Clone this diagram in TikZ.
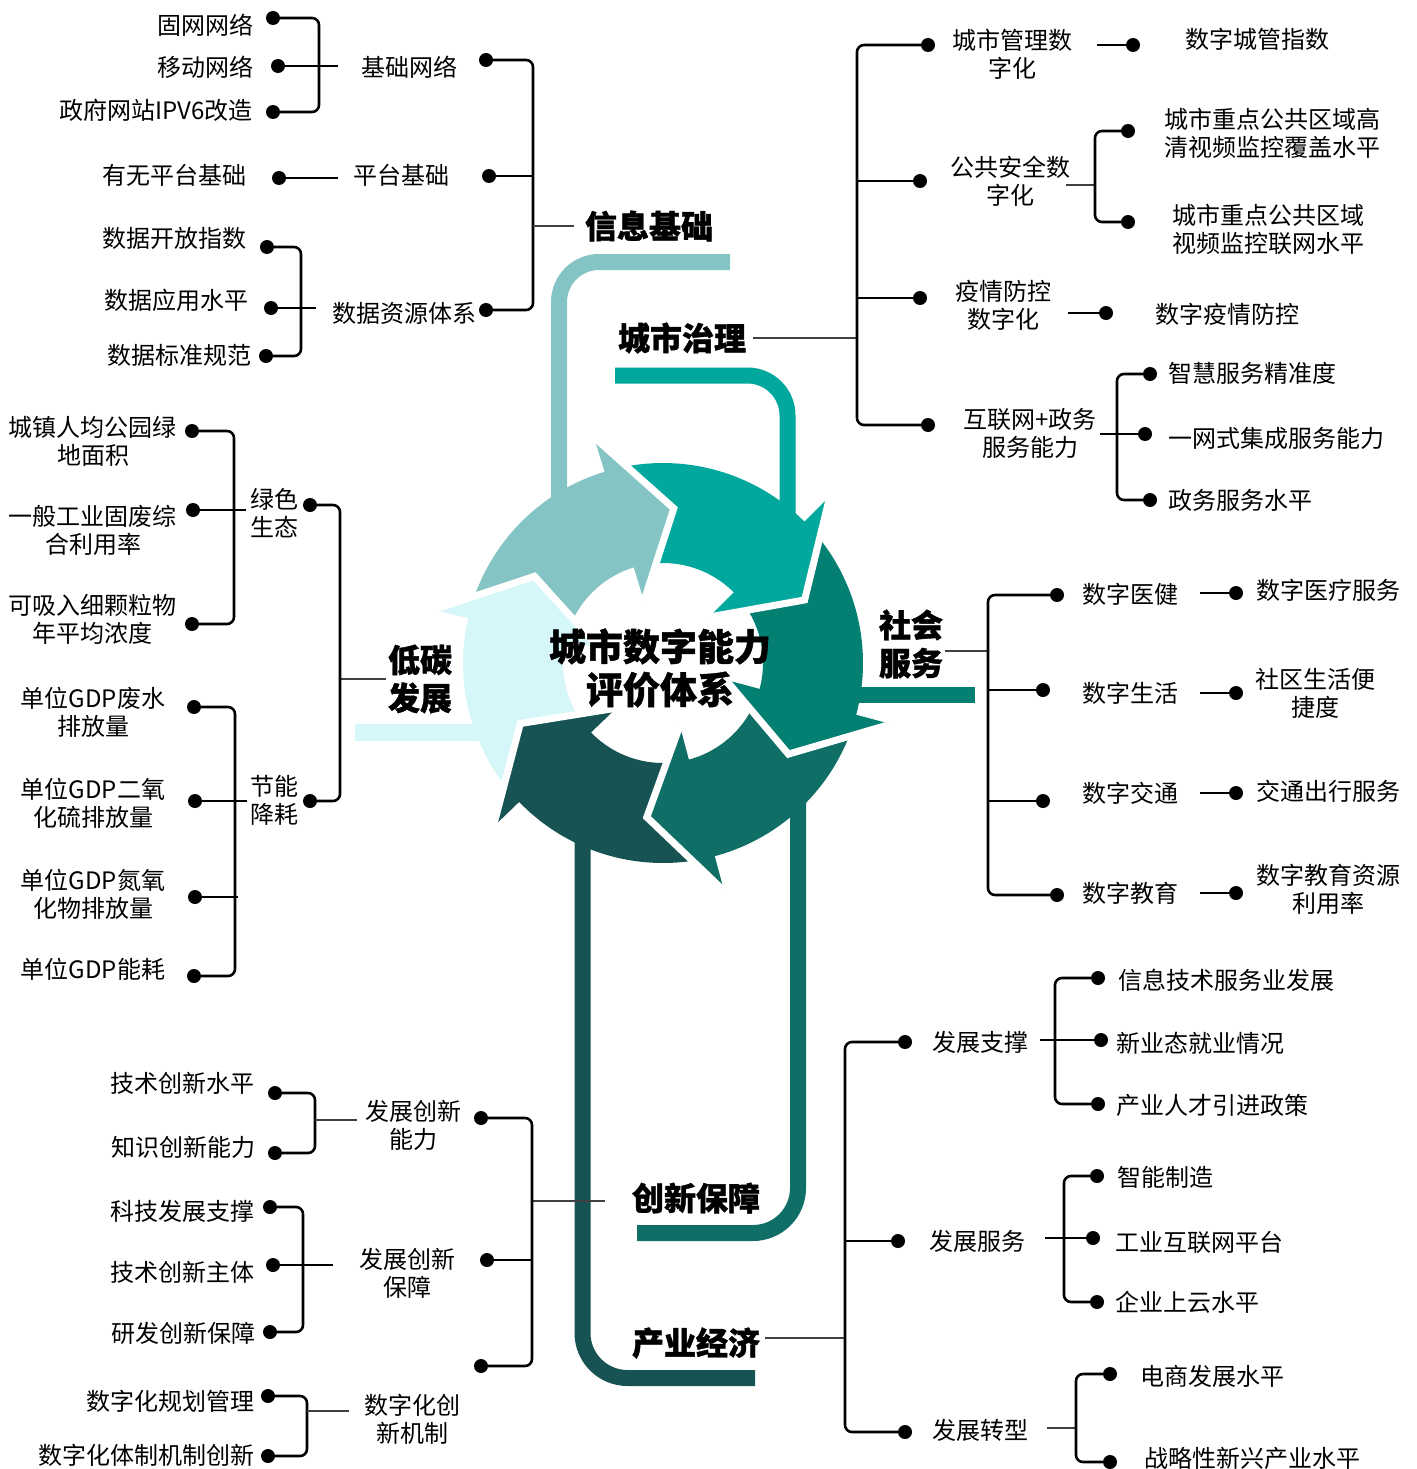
\documentclass[tikz,border=0pt]{standalone}
\usepackage{fontspec}
\setmainfont{Noto Sans CJK SC}[BoldFeatures={FakeBold=1.2}]
\usetikzlibrary{calc}
\definecolor{cA}{HTML}{85C4C4}
\definecolor{cB}{HTML}{02A89D}
\definecolor{cC}{HTML}{048073}
\definecolor{cD}{HTML}{0F6F66}
\definecolor{cE}{HTML}{175353}
\definecolor{cF}{HTML}{D6F7FA}
\newcommand\ringbody[3]{%
  \fill[#1] plot[domain=#2+3:#3+3,samples=40] ({663+200*cos(\x)},{663+200*sin(\x)})
    -- plot[domain=#3+3:#2+3,samples=30] ({663+100*cos(\x)},{663+100*sin(\x)}) -- cycle;}
\newcommand\ringhead[2]{%
  \fill[#1] ({663+236*cos(#2)},{663+236*sin(#2)}) -- ({663+155*cos(#2+21)},{663+155*sin(#2+21)})
    -- ({663+65*cos(#2)},{663+65*sin(#2)}) -- cycle;
  \draw[white,line width=7pt] ({663+236*cos(#2)},{663+236*sin(#2)}) -- ({663+155*cos(#2+21)},{663+155*sin(#2+21)})
    -- ({663+65*cos(#2)},{663+65*sin(#2)});}
\begin{document}
\begin{tikzpicture}[x=1pt,y=-1pt,
  lab/.style={font=\fontsize{24}{28}\selectfont, inner sep=0pt, align=center},
  big/.style={font=\bfseries\fontsize{32}{38}\selectfont, inner sep=2pt, fill=white, align=center},
  ctext/.style={font=\bfseries\fontsize{37}{43}\selectfont, inner sep=0pt, align=center},
  dot/.style={circle, fill=black, inner sep=0pt, minimum size=14pt},
  br/.style={line width=2.6pt, rounded corners=7pt},
  thinln/.style={line width=1.2pt, draw=black!75},
  bar/.style={line width=16pt, rounded corners=40pt},
]
\useasboundingbox (0,0) rectangle (1416,1469);

% ---- bars
\draw[cA, bar] (559,510) -- (559,262) -- (730,262);
\draw[cB, bar] (615,375.5) -- (787.5,375.5) -- (787.5,530);
\draw[cC, line width=16pt] (845,695) -- (975,695);
\draw[cD, bar, rounded corners=45pt] (798,790) -- (798,1233) -- (637,1233);
\draw[cE, bar, rounded corners=45pt] (582.5,830) -- (582.5,1378) -- (755,1378);
\draw[cF, line width=17pt] (490,732) -- (355,732);

% ---- ring
\ringbody{cA}{-167}{-107}
\ringbody{cB}{-107}{-45}
\ringbody{cC}{-45}{15}
\ringbody{cD}{15}{75}
\ringbody{cE}{75}{136}
\ringbody{cF}{136}{193}
\ringhead{cA}{-107}
\ringhead{cB}{-45}
\ringhead{cC}{15}
\ringhead{cD}{75}
\ringhead{cE}{136}
\ringhead{cF}{193}

\node[ctext] (center) at (660,668) {城市数字能力\\评价体系};

% ================= 信息基础
\node[dot] (da1) at (273,18) {};
\node[dot] (da2) at (278,66) {};
\node[dot] (da3) at (273,112) {};
\node[lab,anchor=east] (a1) at (254,25) {固网网络};
\node[lab,anchor=east] (a2) at (254,67) {移动网络};
\node[lab,anchor=east] (a3) at (253,110) {政府网站IPV6改造};
\coordinate (bxA1) at (319,0);
\draw[br] (da1) -- (da1 -| bxA1) -- (da3 -| bxA1) -- (da3);
\coordinate (tA1) at (338,66);
\draw[br] (da2) -- (tA1);
\node[lab,anchor=west] (aB1) at (361,67) {基础网络};
\node[dot] (daB1) at (486,60) {};
\node[dot] (da4) at (279,178) {};
\node[lab,anchor=east] (a4) at (247,175) {有无平台基础};
\coordinate (tA2) at (338,178);
\draw[br] (da4) -- (tA2);
\node[lab,anchor=west] (aB2) at (353,175) {平台基础};
\node[dot] (daB2) at (489,176) {};
\node[dot] (da5) at (267,247) {};
\node[dot] (da6) at (271,308) {};
\node[dot] (da7) at (266,356) {};
\node[lab,anchor=east] (a5) at (247,238) {数据开放指数};
\node[lab,anchor=east] (a6) at (249,300) {数据应用水平};
\node[lab,anchor=east] (a7) at (252,355) {数据标准规范};
\coordinate (bxA3) at (301,0);
\draw[br] (da5) -- (da5 -| bxA3) -- (da7 -| bxA3) -- (da7);
\coordinate (tA3) at (316,308);
\draw[br] (da6) -- (tA3);
\node[lab,anchor=west] (aB3) at (332,313) {数据资源体系};
\node[dot] (daB3) at (486,310) {};
\coordinate (bxA) at (533,0);
\draw[br] (daB1) -- (daB1 -| bxA) -- (daB3 -| bxA) -- (daB3);
\draw[br] (daB2) -- (daB2 -| bxA);
\node[big] (xA) at (649,226) {信息基础};
\draw[thinln, shorten >=9pt] (xA -| bxA) -- (xA.west);

% ================= 城市治理
\node[big] (xB) at (682,338) {城市治理};
\coordinate (bxB) at (857,0);
\draw[thinln, shorten <=5pt] (xB.east) -- (xB -| bxB);
\node[dot] (db1) at (928,45) {};
\node[dot] (db2) at (920,181) {};
\node[dot] (db3) at (920,298) {};
\node[dot] (db4) at (928,425) {};
\draw[br] (db1) -- (db1 -| bxB) -- (db4 -| bxB) -- (db4);
\draw[br] (db2) -- (db2 -| bxB);
\draw[br] (db3) -- (db3 -| bxB);
\node[lab] (b1) at (1012,54) {城市管理数\\字化};
\coordinate (sb1) at (1097,45);
\node[dot] (db1c) at (1133,45) {};
\draw[br] (sb1) -- (db1c);
\node[lab,anchor=west] (b1c) at (1185,39) {数字城管指数};
\node[lab] (b2) at (1010,181) {公共安全数\\字化};
\coordinate (sb2) at (1066,185);
\coordinate (bxB2) at (1095,0);
\node[dot] (db2a) at (1128,131) {};
\node[dot] (db2b) at (1128,222) {};
\draw[thinln] (sb2) -- (sb2 -| bxB2);
\draw[br] (db2a) -- (db2a -| bxB2) -- (db2b -| bxB2) -- (db2b);
\node[lab] (b2a) at (1272,133) {城市重点公共区域高\\清视频监控覆盖水平};
\node[lab] (b2b) at (1268,229) {城市重点公共区域\\视频监控联网水平};
\node[lab] (b3) at (1003,305) {疫情防控\\数字化};
\coordinate (sb3) at (1068,313);
\node[dot] (db3c) at (1106,313) {};
\draw[br] (sb3) -- (db3c);
\node[lab,anchor=west] (b3c) at (1155,314) {数字疫情防控};
\node[lab] (b4) at (1030,433) {互联网+政务\\服务能力};
\coordinate (sb4) at (1100,434);
\coordinate (bxB4) at (1117,0);
\node[dot] (db4a) at (1150,374) {};
\node[dot] (db4b) at (1145,434) {};
\node[dot] (db4c) at (1150,500) {};
\draw[br] (sb4) -- (db4b);
\draw[br] (db4a) -- (db4a -| bxB4) -- (db4c -| bxB4) -- (db4c);
\node[lab,anchor=west] (b4a) at (1168,373) {智慧服务精准度};
\node[lab,anchor=west] (b4b) at (1168,438) {一网式集成服务能力};
\node[lab,anchor=west] (b4c) at (1168,500) {政务服务水平};

% ================= 社会服务
\node[big] (xC) at (911,644) {社会\\服务};
\coordinate (bxC) at (988,0);
\coordinate (sC) at (945,651);
\draw[thinln] (sC) -- (sC -| bxC);
\node[dot] (dc1) at (1057,595) {};
\node[dot] (dc2) at (1043,690) {};
\node[dot] (dc3) at (1043,801) {};
\node[dot] (dc4) at (1057,895) {};
\draw[br] (dc1) -- (dc1 -| bxC) -- (dc4 -| bxC) -- (dc4);
\draw[br] (dc2) -- (dc2 -| bxC);
\draw[br] (dc3) -- (dc3 -| bxC);
\node[lab,anchor=west] (c1) at (1082,594) {数字医健};
\node[lab,anchor=west] (c2) at (1082,693) {数字生活};
\node[lab,anchor=west] (c3) at (1082,793) {数字交通};
\node[lab,anchor=west] (c4) at (1082,893) {数字教育};
\coordinate (sc1) at (1200,593);
\coordinate (sc2) at (1200,693);
\coordinate (sc3) at (1200,793);
\coordinate (sc4) at (1200,893);
\node[dot] (dc1c) at (1236,593) {};
\node[dot] (dc2c) at (1236,693) {};
\node[dot] (dc3c) at (1236,793) {};
\node[dot] (dc4c) at (1236,893) {};
\draw[br] (sc1) -- (dc1c);
\draw[br] (sc2) -- (dc2c);
\draw[br] (sc3) -- (dc3c);
\draw[br] (sc4) -- (dc4c);
\node[lab,anchor=west] (c1c) at (1256,590) {数字医疗服务};
\node[lab] (c2c) at (1315,693) {社区生活便\\捷度};
\node[lab,anchor=west] (c3c) at (1256,791) {交通出行服务};
\node[lab] (c4c) at (1328,889) {数字教育资源\\利用率};

% ================= 低碳发展
\node[big] (xD) at (420,679) {低碳\\发展};
\coordinate (bxD) at (340,0);
\draw[thinln] (xD.west) -- (xD -| bxD);
\node[dot] (dd1) at (310,505) {};
\node[dot] (dd2) at (310,801) {};
\draw[br] (dd1) -- (dd1 -| bxD) -- (dd2 -| bxD) -- (dd2);
\node[lab] (d1) at (274,513) {绿色\\生态};
\node[lab] (d2) at (274,800) {节能\\降耗};
\coordinate (bxD1) at (234,0);
\node[dot] (dd1a) at (192,431) {};
\node[dot] (dd1b) at (193,510) {};
\node[dot] (dd1c) at (192,624) {};
\draw[br] (dd1a) -- (dd1a -| bxD1) -- (dd1c -| bxD1) -- (dd1c);
\coordinate (tD1) at (246,510);
\draw[br] (dd1b) -- (tD1);
\node[lab] (d1a) at (93,441) {城镇人均公园绿\\地面积};
\node[lab] (d1b) at (93,530) {一般工业固废综\\合利用率};
\node[lab] (d1c) at (93,619) {可吸入细颗粒物\\年平均浓度};
\coordinate (bxD2) at (235,0);
\node[dot] (dd2a) at (194,707) {};
\node[dot] (dd2b) at (195,801) {};
\node[dot] (dd2c) at (195,897) {};
\node[dot] (dd2d) at (194,976) {};
\draw[br] (dd2a) -- (dd2a -| bxD2) -- (dd2d -| bxD2) -- (dd2d);
\coordinate (tD2) at (247,801);
\draw[br] (dd2b) -- (tD2);
\coordinate (tD3) at (238,897);
\draw[br] (dd2c) -- (tD3);
\node[lab] (d2a) at (93,712) {单位GDP废水\\排放量};
\node[lab] (d2b) at (93,803) {单位GDP二氧\\化硫排放量};
\node[lab] (d2c) at (93,894) {单位GDP氮氧\\化物排放量};
\node[lab] (d2d) at (93,969) {单位GDP能耗};

% ================= 创新保障
\node[big] (xE) at (696,1198) {创新保障};
\coordinate (bxE) at (532,0);
\coordinate (sE) at (605,1201);
\draw[thinln] (sE -| bxE) -- (sE);
\node[dot] (de1) at (481,1118) {};
\node[dot] (de2) at (487,1260) {};
\node[dot] (de3) at (481,1366) {};
\draw[br] (de1) -- (de1 -| bxE) -- (de3 -| bxE) -- (de3);
\draw[br] (de2) -- (de2 -| bxE);
\node[lab] (e1) at (413,1125) {发展创新\\能力};
\node[lab] (e2) at (407,1273) {发展创新\\保障};
\coordinate (bxE1) at (315,0);
\node[dot] (de1a) at (275,1093) {};
\node[dot] (de1b) at (275,1153) {};
\draw[br] (de1a) -- (de1a -| bxE1) -- (de1b -| bxE1) -- (de1b);
\coordinate (sE1) at (357,1120);
\draw[thinln] (sE1 -| bxE1) -- (sE1);
\node[lab,anchor=east] (e1a) at (255,1083) {技术创新水平};
\node[lab,anchor=east] (e1b) at (256,1147) {知识创新能力};
\coordinate (bxE2) at (303,0);
\node[dot] (de2a) at (270,1207) {};
\node[dot] (de2b) at (273,1265) {};
\node[dot] (de2c) at (270,1332) {};
\draw[br] (de2a) -- (de2a -| bxE2) -- (de2c -| bxE2) -- (de2c);
\coordinate (tE2) at (333,1265);
\draw[br] (de2b) -- (tE2);
\node[lab,anchor=east] (e2a) at (255,1211) {科技发展支撑};
\node[lab,anchor=east] (e2b) at (255,1272) {技术创新主体};
\node[lab,anchor=east] (e2c) at (256,1333) {研发创新保障};
\node[lab] (e3) at (412,1419) {数字化创\\新机制};
\coordinate (bxE3) at (307,0);
\node[dot] (de3a) at (268,1396) {};
\node[dot] (de3b) at (268,1456) {};
\draw[br] (de3a) -- (de3a -| bxE3) -- (de3b -| bxE3) -- (de3b);
\coordinate (sE3) at (349,1411);
\draw[thinln] (sE3 -| bxE3) -- (sE3);
\node[lab,anchor=east] (e3a) at (255,1401) {数字化规划管理};
\node[lab,anchor=east] (e3b) at (255,1455) {数字化体制机制创新};

% ================= 产业经济
\node[big] (xF) at (696,1343) {产业经济};
\coordinate (bxF) at (845,0);
\coordinate (sF) at (765,1338);
\draw[thinln] (sF) -- (sF -| bxF);
\node[dot] (df1) at (905,1042) {};
\node[dot] (df2) at (898,1241) {};
\node[dot] (df3) at (905,1432) {};
\draw[br] (df1) -- (df1 -| bxF) -- (df3 -| bxF) -- (df3);
\draw[br] (df2) -- (df2 -| bxF);
\node[lab,anchor=west] (f1) at (932,1042) {发展支撑};
\coordinate (sF1) at (1040,1040);
\coordinate (bxF1) at (1055,0);
\node[dot] (df1a) at (1098,978) {};
\node[dot] (df1b) at (1101,1040) {};
\node[dot] (df1c) at (1098,1104) {};
\draw[br] (sF1) -- (df1b);
\draw[br] (df1a) -- (df1a -| bxF1) -- (df1c -| bxF1) -- (df1c);
\node[lab,anchor=west] (f1a) at (1118,980) {信息技术服务业发展};
\node[lab,anchor=west] (f1b) at (1116,1043) {新业态就业情况};
\node[lab,anchor=west] (f1c) at (1116,1105) {产业人才引进政策};
\node[lab,anchor=west] (f2) at (929,1241) {发展服务};
\coordinate (sF2) at (1045,1238);
\coordinate (bxF2) at (1064,0);
\node[dot] (df2a) at (1097,1176) {};
\node[dot] (df2b) at (1093,1238) {};
\node[dot] (df2c) at (1097,1302) {};
\draw[br] (sF2) -- (df2b);
\draw[br] (df2a) -- (df2a -| bxF2) -- (df2c -| bxF2) -- (df2c);
\node[lab,anchor=west] (f2a) at (1117,1177) {智能制造};
\node[lab,anchor=west] (f2b) at (1115,1242) {工业互联网平台};
\node[lab,anchor=west] (f2c) at (1115,1302) {企业上云水平};
\node[lab,anchor=west] (f3) at (932,1430) {发展转型};
\coordinate (sF3) at (1047,1428);
\coordinate (bxF3) at (1076,0);
\node[dot] (df3a) at (1110,1374) {};
\node[dot] (df3b) at (1110,1462) {};
\draw[thinln] (sF3) -- (sF3 -| bxF3);
\draw[br] (df3a) -- (df3a -| bxF3) -- (df3b -| bxF3) -- (df3b);
\node[lab,anchor=west] (f3a) at (1140,1376) {电商发展水平};
\node[lab,anchor=west] (f3b) at (1144,1458) {战略性新兴产业水平};
\end{tikzpicture}
\end{document}
